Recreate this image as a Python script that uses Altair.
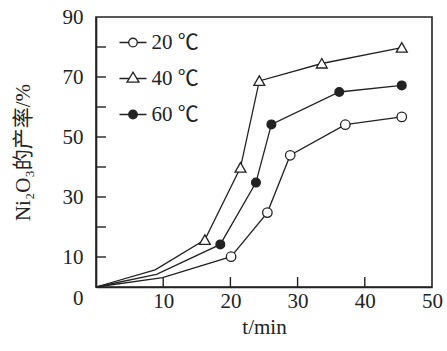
import altair as alt
import pandas as pd

series = ["20 ℃", "40 ℃", "60 ℃"]
t_20 = [0, 9.9, 20.1, 25.5, 28.9, 37.1, 45.5]
y_20 = [0, 3.1, 10.1, 24.8, 43.9, 54.1, 56.7]
t_40 = [0, 8.8, 16.2, 21.5, 24.3, 33.6, 45.5]
y_40 = [0, 5.7, 15.7, 39.8, 68.7, 74.5, 79.8]
t_60 = [0, 9.0, 18.5, 23.8, 26.1, 36.2, 45.5]
y_60 = [0, 4.2, 14.2, 34.8, 54.2, 65.0, 67.2]
marked = [0, 0, 1, 1, 1, 1, 1]

x_labels = [10, 20, 30, 40, 50]
x_ticks = [10, 20, 30, 40]
y_labels = [0, 10, 30, 50, 70, 90]
y_ticks = [10, 20, 30, 40, 50, 60, 70, 80]

rows = []
for s, ts, ys in zip(series, [t_20, t_40, t_60], [y_20, y_40, y_60]):
    for i, (t, y) in enumerate(zip(ts, ys)):
        rows.append({"series": s, "t": t, "y": y, "m": marked[i], "order": i})
df = pd.DataFrame(rows)

FONT = "Liberation Serif, Noto Sans CJK SC"
INK = "#222222"
W, H = 336, 270

xs = alt.Scale(domain=[0, 50], nice=False, zero=False)
ys_ = alt.Scale(domain=[0, 90], nice=False, zero=False)

x_axis = alt.Axis(
    orient="bottom", values=x_labels, ticks=False, labelPadding=3,
    labelFont=FONT, labelFontSize=21, labelColor=INK, labelFlush=False,
    labelOverlap=False, grid=False, domainColor=INK, domainWidth=1.6,
    title="t/min", titleFont=FONT, titleFontSize=21, titleFontWeight="normal",
    titleColor=INK, titlePadding=5)
y_axis = alt.Axis(
    orient="left", values=y_labels, ticks=False, labelPadding=13,
    labelFont=FONT, labelFontSize=21, labelColor=INK, labelFlush=False,
    labelOverlap=False, grid=False, domainColor=INK, domainWidth=1.6,
    labelBaseline=alt.ExprRef(expr="datum.value == 0 ? 'top' : 'middle'"),
    title="Ni₂O₃的产率/%", titleFont=FONT, titleFontSize=21,
    titleFontWeight="normal", titleColor=INK, titlePadding=29)

X = alt.X("t:Q", scale=xs, axis=x_axis)
Y = alt.Y("y:Q", scale=ys_, axis=y_axis)

lines = alt.Chart(df).mark_line(color=INK, strokeWidth=1.3).encode(
    x=X, y=Y, detail="series:N", order="order:Q")

xt = alt.Chart(pd.DataFrame({"t": x_ticks})).mark_rule(color=INK, strokeWidth=1.4).encode(
    x=X, y=alt.value(H - 10), y2=alt.value(H))
yt = alt.Chart(pd.DataFrame({"y": y_ticks})).mark_rule(color=INK, strokeWidth=1.4).encode(
    y=Y, x=alt.value(0), x2=alt.value(10))

m_circle = "M-1,0A1,1,0,1,1,1,0A1,1,0,1,1,-1,0Z"
m_tri = "M0,-1.05L1.15,0.95L-1.15,0.95Z"
m_dot = "M-0.92,0A0.92,0.92,0,1,1,0.92,0A0.92,0.92,0,1,1,-0.92,0Z"

points = alt.Chart(df).transform_filter("datum.m == 1").mark_point(
    stroke=INK, strokeWidth=1.3, opacity=1, size=90).encode(
    x=X, y=Y,
    shape=alt.Shape("series:N", scale=alt.Scale(domain=series, range=[m_circle, m_tri, m_dot]), legend=None),
    fill=alt.Fill("series:N", scale=alt.Scale(domain=series, range=["white", "white", INK]), legend=None),
)

p_circle = "M-3,0L-0.95,0M0.95,0L3,0M-0.95,0A0.95,0.95,0,1,1,0.95,0A0.95,0.95,0,1,1,-0.95,0Z"
p_tri = "M-3,0L-0.85,0M0.85,0L3,0M0,-1.4L1.33,0.8L-1.33,0.8Z"

leg = alt.Legend(orient="none", legendX=26.5, legendY=15, title=None,
                 symbolSize=81, symbolStrokeColor=INK, symbolStrokeWidth=1.3,
                 symbolOpacity=1, labelFont=FONT, labelFontSize=21,
                 labelColor=INK, labelOffset=8, rowPadding=14, padding=0)

legend_layer = alt.Chart(df).transform_filter("datum.t < 0").mark_point(
    strokeWidth=1.3, opacity=1).encode(
    x=X, y=Y,
    shape=alt.Shape("series:N", scale=alt.Scale(domain=series, range=[p_circle, p_tri, p_circle]), legend=leg),
    fill=alt.Fill("series:N", scale=alt.Scale(domain=series, range=["white", "white", INK]), legend=leg),
    stroke=alt.Stroke("series:N", scale=alt.Scale(domain=series, range=[INK, INK, INK]), legend=leg),
)

chart = alt.layer(lines, xt, yt, points, legend_layer).resolve_scale(
    shape="independent", fill="independent", stroke="independent"
).properties(
    width=W, height=H,
    padding={"left": 96, "top": 17, "right": 15, "bottom": 64},
    autosize=alt.AutoSizeParams(type="none"),
    background="white",
).configure(font=FONT).configure_view(stroke=INK, strokeWidth=1.6)

chart.save("out.html", embed_options={"renderer": "svg", "actions": False})
